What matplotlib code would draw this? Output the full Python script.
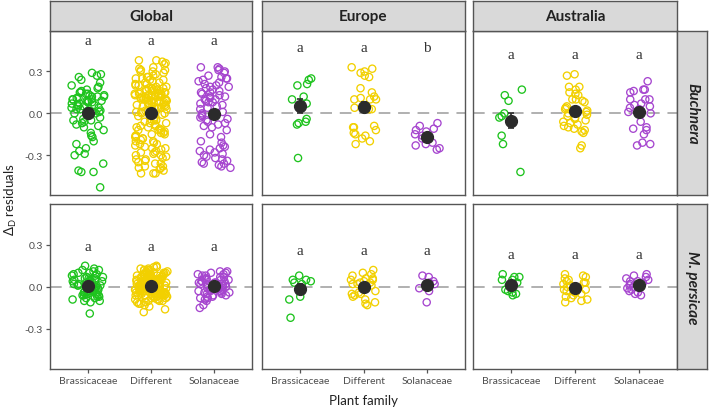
import numpy as np
import matplotlib
matplotlib.use('Agg')
import matplotlib.pyplot as plt

plt.rcParams['font.family'] = ['Lato', 'DejaVu Sans']
plt.rcParams['mathtext.fontset'] = 'custom'
plt.rcParams['mathtext.rm'] = 'Lato'

categories = ['Brassicaceae', 'Different', 'Solanaceae']
regions = ['Global', 'Europe', 'Australia']
organisms = ['Buchnera', 'M. persicae']
colors = ['#1ec31e', '#f2d000', '#a646cf']

# ---- Buchnera (top row) ----
glob_buch_bras = [0.29, 0.28, 0.27, 0.26, 0.24, 0.22, 0.20, 0.19, 0.18, 0.17, 0.16, 0.15, 0.15, 0.14, 0.14,
                  0.13, 0.13, 0.12, 0.12, 0.12, 0.11, 0.11, 0.10, 0.10, 0.10, 0.09, 0.09, 0.09, 0.08, 0.08,
                  0.08, 0.07, 0.07, 0.06, 0.06, 0.05, 0.05, 0.04, 0.04, 0.03, 0.03, 0.02, 0.02, 0.01, 0.01,
                  0.00, 0.00, -0.01, -0.02, -0.03, -0.04, -0.05, -0.05, -0.06, -0.07, -0.08, -0.09, -0.10,
                  -0.12, -0.14, -0.16, -0.17, -0.20, -0.22, -0.25, -0.27, -0.29, -0.30, -0.36, -0.41, -0.42,
                  -0.42, -0.53]
glob_buch_diff = [0.38, 0.38, 0.37, 0.36, 0.35, 0.33, 0.32, 0.31, 0.31, 0.30, 0.30, 0.29, 0.28, 0.27, 0.26,
                  0.26, 0.25, 0.25, 0.24, 0.24, 0.23, 0.22, 0.22, 0.21, 0.21, 0.20, 0.20, 0.19, 0.19, 0.18,
                  0.18, 0.18, 0.17, 0.17, 0.17, 0.16, 0.16, 0.16, 0.15, 0.15, 0.15, 0.14, 0.14, 0.14, 0.14,
                  0.13, 0.13, 0.13, 0.13, 0.12, 0.12, 0.12, 0.12, 0.11, 0.11, 0.11, 0.11, 0.10, 0.10, 0.10,
                  0.10, 0.09, 0.09, 0.09, 0.09, 0.08, 0.08, 0.08, 0.08, 0.07, 0.07, 0.07, 0.06, 0.06, 0.06,
                  0.05, 0.05, 0.05, 0.04, 0.04, 0.04, 0.03, 0.03, 0.02, 0.02, 0.01, 0.01, 0.00, 0.00, -0.01,
                  -0.02, -0.03, -0.04, -0.05, -0.05, -0.06, -0.07, -0.07, -0.08, -0.09, -0.09, -0.10, -0.10,
                  -0.11, -0.12, -0.12, -0.12, -0.13, -0.14, -0.14, -0.15, -0.15, -0.16, -0.16, -0.17, -0.18,
                  -0.18, -0.19, -0.20, -0.20, -0.21, -0.22, -0.22, -0.23, -0.24, -0.25, -0.25, -0.26, -0.27,
                  -0.28, -0.28, -0.29, -0.30, -0.30, -0.31, -0.32, -0.33, -0.33, -0.34, -0.35, -0.36, -0.36,
                  -0.38, -0.38, -0.39, -0.39, -0.40, -0.41, -0.43, -0.43, -0.43]
glob_buch_sol = [0.33, 0.33, 0.32, 0.31, 0.30, 0.29, 0.27, 0.26, 0.25, 0.25, 0.24, 0.23, 0.22, 0.21, 0.20,
                 0.19, 0.19, 0.18, 0.17, 0.16, 0.15, 0.15, 0.14, 0.13, 0.12, 0.12, 0.11, 0.10, 0.10, 0.09,
                 0.08, 0.08, 0.07, 0.06, 0.05, 0.04, 0.03, 0.01, 0.00, -0.01, -0.02, -0.03, -0.04, -0.05,
                 -0.06, -0.07, -0.08, -0.09, -0.10, -0.12, -0.15, -0.17, -0.20, -0.21, -0.23, -0.24, -0.25,
                 -0.26, -0.27, -0.28, -0.29, -0.30, -0.31, -0.32, -0.33, -0.34, -0.35, -0.36, -0.36, -0.37,
                 -0.38, -0.39]
eur_buch_bras = [0.25, 0.24, 0.21, 0.20, 0.12, 0.10, 0.07, -0.04, -0.06, -0.07, -0.08, -0.32]
eur_buch_diff = [0.33, 0.32, 0.30, 0.29, 0.27, 0.26, 0.18, 0.15, 0.12, 0.11, 0.10, 0.10, 0.10, 0.04, 0.03,
                 0.03, -0.09, -0.10, -0.10, -0.12, -0.14, -0.15, -0.16, -0.18, -0.20, -0.22]
eur_buch_sol = [-0.07, -0.09, -0.11, -0.12, -0.13, -0.15, -0.16, -0.18, -0.21, -0.22, -0.23, -0.25, -0.26]
aus_buch_bras = [0.17, 0.13, 0.09, 0.00, -0.02, -0.03, -0.06, -0.16, -0.22, -0.42]
aus_buch_diff = [0.28, 0.27, 0.19, 0.19, 0.17, 0.15, 0.14, 0.13, 0.10, 0.10, 0.09, 0.08, 0.05, 0.04, 0.03,
                 0.02, 0.01, 0.00, -0.01, -0.02, -0.03, -0.04, -0.05, -0.06, -0.07, -0.08, -0.09, -0.10,
                 -0.11, -0.12, -0.13, -0.14, -0.23, -0.25]
aus_buch_sol = [0.23, 0.17, 0.17, 0.16, 0.15, 0.10, 0.10, 0.10, 0.07, 0.06, 0.05, 0.04, 0.03, 0.01, 0.00,
                -0.06, -0.10, -0.11, -0.12, -0.15, -0.21, -0.22, -0.23]

# ---- M. persicae (bottom row) ----
glob_mp_bras = [0.15, 0.13, 0.12, 0.12, 0.11, 0.10, 0.10, 0.09, 0.09, 0.08, 0.08, 0.07, 0.07, 0.06, 0.06,
                0.06, 0.05, 0.05, 0.05, 0.04, 0.04, 0.04, 0.03, 0.03, 0.03, 0.02, 0.02, 0.02, 0.01, 0.01,
                0.01, 0.00, 0.00, 0.00, -0.01, -0.01, -0.01, -0.02, -0.02, -0.02, -0.03, -0.03, -0.03,
                -0.04, -0.04, -0.04, -0.05, -0.05, -0.05, -0.06, -0.06, -0.06, -0.07, -0.07, -0.08, -0.08,
                -0.09, -0.10, -0.10, -0.11, -0.19]
glob_mp_diff = [0.15, 0.14, 0.14, 0.13, 0.13, 0.12, 0.12, 0.12, 0.11, 0.11, 0.11, 0.10, 0.10, 0.10, 0.10,
                0.09, 0.09, 0.09, 0.09, 0.08, 0.08, 0.08, 0.08, 0.08, 0.07, 0.07, 0.07, 0.07, 0.07, 0.06,
                0.06, 0.06, 0.06, 0.06, 0.06, 0.05, 0.05, 0.05, 0.05, 0.05, 0.05, 0.04, 0.04, 0.04, 0.04,
                0.04, 0.04, 0.03, 0.03, 0.03, 0.03, 0.03, 0.03, 0.03, 0.02, 0.02, 0.02, 0.02, 0.02, 0.02,
                0.02, 0.01, 0.01, 0.01, 0.01, 0.01, 0.01, 0.01, 0.00, 0.00, 0.00, 0.00, 0.00, 0.00, 0.00,
                -0.01, -0.01, -0.01, -0.01, -0.01, -0.01, -0.01, -0.02, -0.02, -0.02, -0.02, -0.02, -0.02,
                -0.02, -0.03, -0.03, -0.03, -0.03, -0.03, -0.03, -0.04, -0.04, -0.04, -0.04, -0.04, -0.04,
                -0.05, -0.05, -0.05, -0.05, -0.05, -0.05, -0.06, -0.06, -0.06, -0.06, -0.06, -0.07, -0.07,
                -0.07, -0.07, -0.07, -0.08, -0.08, -0.08, -0.08, -0.09, -0.09, -0.09, -0.10, -0.10, -0.10,
                -0.11, -0.11, -0.12, -0.12, -0.13, -0.14, -0.16, -0.18]
glob_mp_sol = [0.11, 0.11, 0.10, 0.10, 0.09, 0.09, 0.08, 0.08, 0.07, 0.07, 0.06, 0.06, 0.05, 0.05, 0.05,
               0.04, 0.04, 0.04, 0.03, 0.03, 0.03, 0.02, 0.02, 0.02, 0.01, 0.01, 0.01, 0.00, 0.00, 0.00,
               -0.01, -0.01, -0.01, -0.02, -0.02, -0.02, -0.03, -0.03, -0.03, -0.04, -0.04, -0.04, -0.05,
               -0.05, -0.06, -0.06, -0.07, -0.07, -0.08, -0.08, -0.09, -0.10, -0.13, -0.15]
eur_mp_bras = [0.08, 0.05, 0.05, 0.04, 0.03, 0.02, -0.07, -0.09, -0.22]
eur_mp_diff = [0.12, 0.10, 0.09, 0.08, 0.06, 0.06, 0.05, 0.05, 0.04, 0.03, 0.03, 0.02, 0.02, 0.01, 0.00,
               -0.01, -0.03, -0.04, -0.05, -0.05, -0.06, -0.07, -0.09, -0.11, -0.12, -0.13]
eur_mp_sol = [0.08, 0.07, 0.04, 0.03, 0.02, 0.01, -0.01, -0.03, -0.11]
aus_mp_bras = [0.09, 0.07, 0.07, 0.05, 0.05, 0.03, 0.01, -0.02, -0.03, -0.04, -0.05, -0.06]
aus_mp_diff = [0.09, 0.08, 0.07, 0.06, 0.05, 0.04, 0.03, 0.03, 0.02, 0.01, 0.00, -0.01, -0.02, -0.02,
               -0.03, -0.04, -0.04, -0.05, -0.06, -0.07, -0.08, -0.09, -0.10, -0.11]
aus_mp_sol = [0.09, 0.08, 0.07, 0.06, 0.05, 0.04, 0.04, 0.03, 0.02, 0.02, 0.01, 0.00, -0.01, -0.02, -0.03,
              -0.04, -0.05, -0.06]

letters_buchnera = [['a', 'a', 'a'], ['a', 'a', 'b'], ['a', 'a', 'a']]
letters_mpersicae = [['a', 'a', 'a'], ['a', 'a', 'a'], ['a', 'a', 'a']]
yticks = [-0.3, 0.0, 0.3]
ytick_labels = ['-0.3', '0.0', '0.3']

panels = [
    [[glob_buch_bras, glob_buch_diff, glob_buch_sol],
     [eur_buch_bras, eur_buch_diff, eur_buch_sol],
     [aus_buch_bras, aus_buch_diff, aus_buch_sol]],
    [[glob_mp_bras, glob_mp_diff, glob_mp_sol],
     [eur_mp_bras, eur_mp_diff, eur_mp_sol],
     [aus_mp_bras, aus_mp_diff, aus_mp_sol]],
]
letters = [letters_buchnera, letters_mpersicae]

W, H = 709, 410
fig = plt.figure(figsize=(W / 100, H / 100), dpi=100)

col_x = [(50, 252), (262, 465), (473, 677)]
row_y = [(32, 196), (205, 370)]
edge = '#555555'
strip_fc = '#d9d9d9'
tick_col = '#4d4d4d'

def fbox(x0, y0, x1, y1):
    return [x0 / W, 1 - y1 / H, (x1 - x0) / W, (y1 - y0) / H]

rng = np.random.default_rng(7)

for r in range(2):
    for c in range(3):
        ax = fig.add_axes(fbox(col_x[c][0], row_y[r][0], col_x[c][1], row_y[r][1]))
        ax.set_xlim(0.4, 3.6)
        ax.set_ylim(-0.585, 0.59)
        ax.axhline(0, color='#b0b0b0', lw=1.4, ls=(0, (6, 4)), zorder=1)
        grp = panels[r][c]
        pmax = max(max(g) for g in grp)
        for i, vals in enumerate(grp):
            v = np.asarray(vals)
            jw = 0.26 if len(v) > 40 else 0.2
            xs = (i + 1) + rng.uniform(-jw, jw, len(v))
            ax.scatter(xs, v, s=27, facecolors='none', edgecolors=colors[i], linewidths=0.95, zorder=2)
            m = v.mean()
            se = v.std(ddof=1) / np.sqrt(len(v))
            ax.errorbar(i + 1, m, yerr=se, fmt='o', ms=8.5, color='#2b2b2b', ecolor='#2b2b2b',
                        elinewidth=1.2, capsize=2.5, capthick=1.2, zorder=4)
            ax.text(i + 1, pmax + 0.14, letters[r][c][i], ha='center', va='center',
                    fontsize=11, family=['Liberation Serif', 'DejaVu Serif'], color='#333333')
        for s in ax.spines.values():
            s.set_color(edge)
            s.set_linewidth(1.0)
        ax.set_yticks(yticks)
        if c == 0:
            ax.set_yticklabels(ytick_labels, fontsize=7.5, color=tick_col)
            ax.tick_params(axis='y', length=3, color=edge, width=0.9, pad=2)
        else:
            ax.tick_params(axis='y', length=0, labelleft=False)
        ax.set_xticks([1, 2, 3])
        if r == 1:
            ax.set_xticklabels(categories, fontsize=7.5, color=tick_col)
            ax.tick_params(axis='x', length=3, color=edge, width=0.9, pad=2)
        else:
            ax.tick_params(axis='x', length=0, labelbottom=False)

        # top strips
        if r == 0:
            sax = fig.add_axes(fbox(col_x[c][0], 2, col_x[c][1], 32))
            sax.set_facecolor(strip_fc)
            sax.set_xticks([]); sax.set_yticks([])
            for s in sax.spines.values():
                s.set_color(edge); s.set_linewidth(1.0)
            sax.text(0.5, 0.5, regions[c], ha='center', va='center', fontsize=11,
                     fontweight='bold', color='#222222', transform=sax.transAxes)
        # right strips
        if c == 2:
            sax = fig.add_axes(fbox(677, row_y[r][0], 707, row_y[r][1]))
            sax.set_facecolor(strip_fc)
            sax.set_xticks([]); sax.set_yticks([])
            for s in sax.spines.values():
                s.set_color(edge); s.set_linewidth(1.0)
            sax.text(0.5, 0.5, organisms[r], ha='center', va='center', fontsize=11,
                     fontweight='bold', fontstyle='italic', rotation=-90, color='#222222',
                     transform=sax.transAxes)

fig.text(11 / W, 1 - 200 / H, r'$\mathregular{\Delta_D}$ residuals', rotation=90,
         ha='center', va='center', fontsize=9.5, color='#222222')
fig.text(363.5 / W, 1 - 401 / H, 'Plant family', ha='center', va='center', fontsize=9.5,
         color='#222222')

fig.savefig('out.png', dpi=100)
